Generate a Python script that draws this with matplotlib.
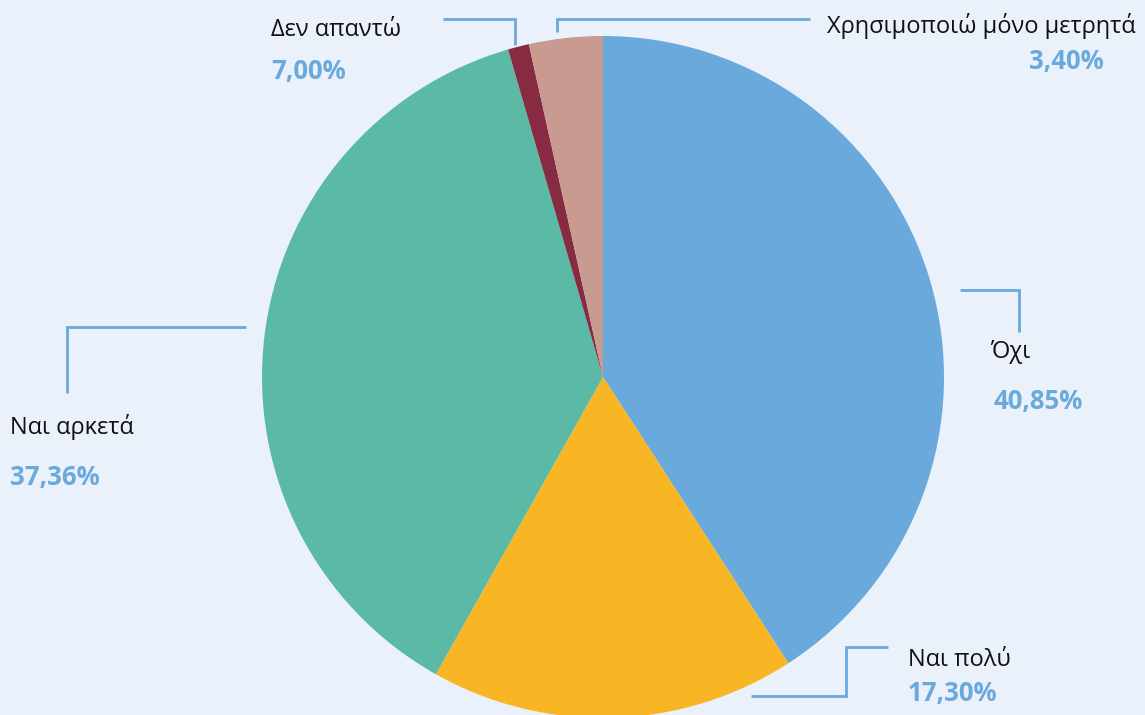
import matplotlib
matplotlib.use("Agg")
import matplotlib.pyplot as plt

categories = ["Όχι", "Ναι πολύ", "Ναι αρκετά", "Δεν απαντώ", "Χρησιμοποιώ μόνο μετρητά"]
slice_values = [40.85, 17.30, 37.36, 1.00, 3.49]
value_labels = ["40,85%", "17,30%", "37,36%", "7,00%", "3,40%"]
colors = ["#6aa9dc", "#f8b624", "#5bbaa5", "#862b42", "#c99a8f"]

BG = "#eaf1fb"
LINE = "#6aa9dc"
plt.rcParams["font.family"] = ["Open Sans", "Noto Sans", "DejaVu Sans"]

fig = plt.figure(figsize=(11.45, 7.15), dpi=100, facecolor=BG)
ax = fig.add_axes([0, 0, 1, 1])
ax.set_facecolor(BG)

# y axis is inverted below, so counterclockwise from -90 in data = clockwise from top on screen
ax.pie(slice_values, colors=colors, startangle=-90, counterclock=True,
       center=(603, 377), radius=341, frame=True,
       wedgeprops=dict(linewidth=0))
ax.set_xlim(0, 1145)
ax.set_ylim(715, 0)
ax.set_aspect("equal")
ax.axis("off")

# leader lines (pixel layout)
leaders = [
    [(960, 290), (1019, 290), (1019, 332)],
    [(751, 696), (846, 696), (846, 647), (888, 647)],
    [(246, 327), (67, 327), (67, 393)],
    [(443, 19), (515, 19), (515, 45)],
    [(557, 32), (557, 19), (810, 19)],
]
for pts in leaders:
    xs, ys = zip(*pts)
    ax.plot(xs, ys, color=LINE, lw=2, solid_capstyle="butt", solid_joinstyle="miter")

# label layout: (name x, name y, value x, value y, ha)
layout = [
    (990, 352, 993, 401, "left"),
    (908, 660, 908, 693, "left"),
    (10, 427, 10, 477, "left"),
    (271, 30, 271, 72, "left"),
    (1136, 26, 1104, 62, "right"),
]
for cat, val, (nx, ny, vx, vy, ha) in zip(categories, value_labels, layout):
    ax.text(nx, ny, cat, ha=ha, va="center", fontsize=17, color="#111111")
    ax.text(vx, vy, val, ha=ha, va="center", fontsize=18.5, color=LINE, fontweight="bold")

fig.savefig("out.png", dpi=100, facecolor=BG)
